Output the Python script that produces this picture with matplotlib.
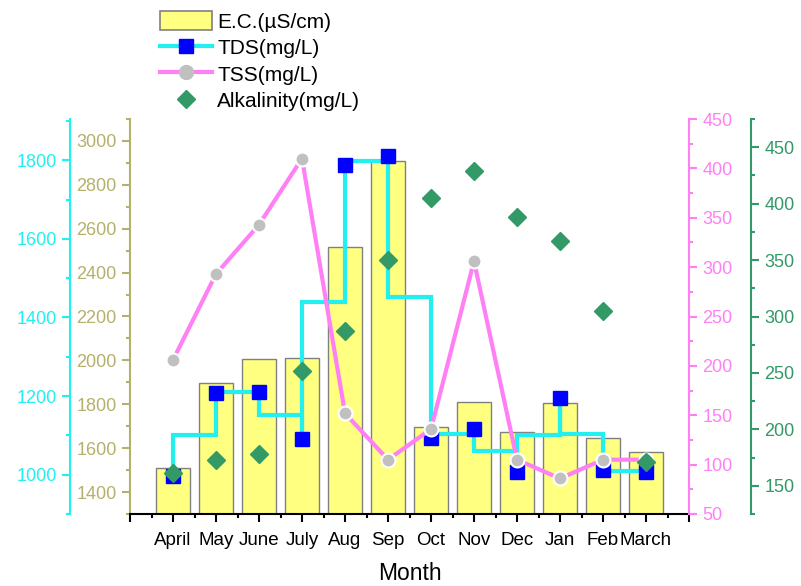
import matplotlib
matplotlib.use("Agg")
import matplotlib.pyplot as plt
from matplotlib.patches import Patch
from matplotlib.lines import Line2D
from matplotlib.ticker import MultipleLocator
import numpy as np

plt.rcParams['font.family'] = ['Liberation Sans', 'DejaVu Sans']

months = ["April", "May", "June", "July", "Aug", "Sep", "Oct", "Nov", "Dec", "Jan", "Feb", "March"]
ec = [1510, 1895, 2005, 2012, 2515, 2909, 1695, 1811, 1672, 1805, 1645, 1581]
tds = [996, 1208, 1211, 1091, 1787, 1810, 1093, 1115, 1008, 1196, 1011, 1007]
tss = [206, 293, 343, 410, 152, 105, 136, 306, 105, 86, 105, 105]
alk = [161, 173, 178, 252, 287, 350, 405, 429, 388, 367, 305, 171]

OLIVE = "#b5b06b"
CYAN = "#22f0f0"
PINK = "#ff80f5"
GREEN = "#339966"
PX = 72 / 100  # points per pixel

fig = plt.figure(figsize=(8.01, 5.86), dpi=100)
ax = fig.add_axes([130/801, 1-514/586, (689-130)/801, (514-119)/586])
x = np.arange(1, len(months)+1)

# bars (E.C.)
ax.bar(x, ec, width=0.8, color="#ffff80", edgecolor="#808080", linewidth=1.0, zorder=2)
ax.set_ylim(1300, 3100)
ax.set_xlim(0, 13)
ax.set_xticks(np.arange(0, 14))
ax.set_xticklabels([""] + months + [""])
ax.xaxis.set_minor_locator(MultipleLocator(0.5))
ax.yaxis.set_minor_locator(MultipleLocator(100))
ax.set_yticks(np.arange(1400, 3001, 200))
for s in ["top", "right"]:
    ax.spines[s].set_visible(False)
ax.spines["left"].set_color(OLIVE)
ax.spines["left"].set_linewidth(1.5)
ax.spines["bottom"].set_linewidth(1.5)
ax.tick_params(axis="y", which="both", colors=OLIVE, labelsize=13, direction="out", width=1.5)
ax.tick_params(axis="y", which="major", length=6)
ax.tick_params(axis="y", which="minor", length=3)
ax.tick_params(axis="x", which="major", length=6, width=1.5, labelsize=13.5, pad=7)
ax.tick_params(axis="x", which="minor", length=3, width=1.5)
ax.set_xlabel("Month", fontsize=16.5, labelpad=9)

# TDS axis (cyan, left outward)
axc = ax.twinx()
axc.set_ylim(900, 1905)
axc.spines["left"].set_visible(True)
axc.spines["left"].set_position(("outward", 60 * PX))
axc.spines["left"].set_color(CYAN)
axc.spines["left"].set_linewidth(1.5)
for s in ["top", "right", "bottom"]:
    axc.spines[s].set_visible(False)
axc.yaxis.set_label_position("left")
axc.yaxis.set_ticks_position("left")
axc.yaxis.set_major_locator(MultipleLocator(200))
axc.yaxis.set_minor_locator(MultipleLocator(100))
axc.tick_params(axis="y", which="both", colors=CYAN, labelsize=13, width=1.5)
axc.tick_params(axis="y", which="major", length=6)
axc.tick_params(axis="y", which="minor", length=3)

# step path with horizontal at midpoint values
px, py = [], []
for i in range(len(x)-1):
    m = (tds[i] + tds[i+1]) / 2
    px += [x[i], x[i], x[i+1]]
    py += [tds[i], m, m]
px.append(x[-1]); py.append(tds[-1])
axc.plot(px, py, color=CYAN, linewidth=3, zorder=3, solid_joinstyle="miter")
axc.plot(x, tds, linestyle="none", marker="s", markersize=9.5, color="#0000ff", zorder=4)

# TSS axis (pink, right)
axp = ax.twinx()
axp.set_ylim(50, 450)
axp.spines["right"].set_color(PINK)
axp.spines["right"].set_linewidth(1.5)
for s in ["top", "left", "bottom"]:
    axp.spines[s].set_visible(False)
axp.yaxis.set_major_locator(MultipleLocator(50))
axp.yaxis.set_minor_locator(MultipleLocator(25))
axp.tick_params(axis="y", which="both", colors=PINK, labelsize=13, width=1.5)
axp.tick_params(axis="y", which="major", length=6)
axp.tick_params(axis="y", which="minor", length=3)
axp.plot(x, tss, color=PINK, linewidth=3, marker="o", markersize=10,
         markerfacecolor="#c0c0c0", markeredgecolor="white", markeredgewidth=1.5)

# Alkalinity axis (green, right outward)
axg = ax.twinx()
axg.set_ylim(125, 475)
axg.spines["right"].set_position(("outward", 62 * PX))
axg.spines["right"].set_color(GREEN)
axg.spines["right"].set_linewidth(1.5)
for s in ["top", "left", "bottom"]:
    axg.spines[s].set_visible(False)
axg.yaxis.set_minor_locator(MultipleLocator(25))
axg.set_yticks(np.arange(150, 451, 50))
axg.tick_params(axis="y", which="both", colors=GREEN, labelsize=13, width=1.5)
axg.tick_params(axis="y", which="major", length=6)
axg.tick_params(axis="y", which="minor", length=3)
axg.plot(x, alk, linestyle="none", marker="D", markersize=9.5, color=GREEN)

handles = [
    Patch(facecolor="#ffff80", edgecolor="#808080", linewidth=1.2),
    Line2D([], [], color=CYAN, linewidth=3, marker="s", markersize=9.5,
           markerfacecolor="#0000ff", markeredgecolor="#0000ff"),
    Line2D([], [], color=PINK, linewidth=3, marker="o", markersize=10,
           markerfacecolor="#c0c0c0", markeredgecolor="#c0c0c0"),
    Line2D([], [], linestyle="none", marker="D", markersize=9.5, color=GREEN),
]
labels = ["E.C.(\u00b5S/cm)", "TDS(mg/L)", "TSS(mg/L)", "Alkalinity(mg/L)"]
fig.legend(handles, labels, loc="upper left", bbox_to_anchor=(160/801, 1-11/586),
           frameon=False, fontsize=15, handlelength=2.5, handleheight=1.05,
           handletextpad=0.25, labelspacing=0.27, borderaxespad=0, borderpad=0)

fig.savefig("out.png", dpi=100)
